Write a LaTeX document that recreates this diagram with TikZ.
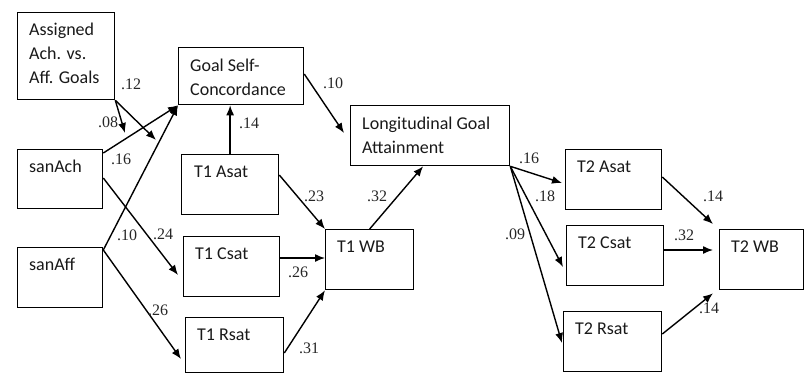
\documentclass[tikz,border=0pt]{standalone}
\usepackage{fontspec}
\setmainfont{Liberation Serif}
\newfontfamily\boxfont{Carlito}
\usetikzlibrary{arrows.meta,calc}

\begin{document}
\begin{tikzpicture}[x=1pt,y=-1pt,
  bx/.style={draw, line width=1.3pt, inner sep=0pt, anchor=north west},
  txt/.style={anchor=north west, inner sep=0pt, align=left, text=black!90,
    font=\boxfont\fontsize{18}{24}\selectfont},
  lbl/.style={inner sep=0pt, font=\fontsize{16}{18}\selectfont, text=black!85},
  path/.style={line width=1.4pt, -{Latex[length=10pt,width=8pt]}}]

\useasboundingbox (0,0) rectangle (805,376);

% variable boxes
\node[bx, minimum width=97pt, minimum height=87pt] (asg) at (17,12) {};
\node[bx, minimum width=125pt, minimum height=57pt] (gsc) at (178,47) {};
\node[bx, minimum width=85pt, minimum height=59pt] (sach) at (17,149) {};
\node[bx, minimum width=85pt, minimum height=60pt] (saff) at (17,247) {};
\node[bx, minimum width=97pt, minimum height=60pt] (t1a) at (181,154) {};
\node[bx, minimum width=96pt, minimum height=60pt] (t1c) at (183,236) {};
\node[bx, minimum width=98pt, minimum height=55pt] (t1r) at (185,317) {};
\node[bx, minimum width=88pt, minimum height=60pt] (t1w) at (325,229) {};
\node[bx, minimum width=159pt, minimum height=60pt] (lga) at (350,105) {};
\node[bx, minimum width=96pt, minimum height=60pt] (t2a) at (565,149) {};
\node[bx, minimum width=97pt, minimum height=60pt] (t2c) at (566,225) {};
\node[bx, minimum width=98pt, minimum height=60pt] (t2r) at (563,311) {};
\node[bx, minimum width=84pt, minimum height=60pt] (t2w) at (719,229) {};

% box captions
\node[txt] (asgT) at ($(asg.north west)+(12,11)$) {Assigned\\Ach. vs.\\Aff. Goals};
\node[txt] (gscT) at ($(gsc.north west)+(12,12)$) {Goal Self-\\Concordance};
\node[txt] (sachT) at ($(sach.north west)+(12,11)$) {sanAch};
\node[txt] (saffT) at ($(saff.north west)+(12,11)$) {sanAff};
\node[txt] (t1aT) at ($(t1a.north west)+(13,12)$) {T1 Asat};
\node[txt] (t1cT) at ($(t1c.north west)+(12,12)$) {T1 Csat};
\node[txt] (t1rT) at ($(t1r.north west)+(12,12)$) {T1 Rsat};
\node[txt] (t1wT) at ($(t1w.north west)+(12,12)$) {T1 WB};
\node[txt] (lgaT) at ($(lga.north west)+(12,12)$) {Longitudinal Goal\\Attainment};
\node[txt] (t2aT) at ($(t2a.north west)+(12,12)$) {T2 Asat};
\node[txt] (t2cT) at ($(t2c.north west)+(12,12)$) {T2 Csat};
\node[txt] (t2rT) at ($(t2r.north west)+(12,12)$) {T2 Rsat};
\node[txt] (t2wT) at ($(t2w.north west)+(12,12)$) {T2 WB};

% moderation targets on the paths into self-concordance
\coordinate (m1) at (125,133);
\coordinate (m2) at (156,140);

% paths
\draw[path] (asg.south east) -- (m1);
\draw[path] (asg.south east) -- (m2);
\draw[path] ($(sach.north east)+(0,4)$) -- (gsc.south west);
\draw[path] ($(saff.north east)+(0,3)$) -- (gsc.south west);
\draw[path] ($(sach.north east)+(0,29)$) -- ($(t1c.north west)+(-5,39)$);
\draw[path] ($(saff.north east)+(0,3)$) -- ($(t1r.north west)+(-4,42)$);
\draw[path] (t1a.north) -- (t1a.north |- gsc.south);
\draw[path] ($(t1a.north east)+(0,21)$) -- (t1w.north west);
\draw[path] ($(t1c.north east)+(0,22)$) -- ($(t1w.north west)+(0,29)$);
\draw[path] ($(t1r.north east)+(0,36)$) -- (t1w.south west);
\draw[path] ($(gsc.north east)+(0,27)$) -- ($(lga.north west)+(-6,28)$);
\draw[path] (t1w.north) -- ($(lga.south)+(-7,0)$);
\draw[path] (lga.south east) -- ($(t2a.north west)+(-3,34)$);
\draw[path] (lga.south east) -- ($(t2c.north west)+(-3,42)$);
\draw[path] (lga.south east) -- ($(t2r.north west)+(-1,32)$);
\draw[path] ($(t2a.north east)+(0,28)$) -- ($(t2w.north west)+(-6,-5)$);
\draw[path] ($(t2c.north east)+(0,25)$) -- ($(t2w.north west)+(-6,21)$);
\draw[path] ($(t2r.north east)+(0,23)$) -- ($(t2w.south west)+(-6,3)$);

% path coefficients
\node[lbl] (c1) at (131,84) {.12};
\node[lbl] (c2) at (108,122) {.08};
\node[lbl] (c3) at (121,159) {.16};
\node[lbl] (c4) at (249,123) {.14};
\node[lbl] (c5) at (127,235) {.10};
\node[lbl] (c6) at (163,234) {.24};
\node[lbl] (c7) at (158,310) {.26};
\node[lbl] (c8) at (314,196) {.23};
\node[lbl] (c9) at (298,272) {.26};
\node[lbl] (c10) at (309,348) {.31};
\node[lbl] (c11) at (333,83) {.10};
\node[lbl] (c12) at (377,196) {.32};
\node[lbl] (c13) at (529,158) {.16};
\node[lbl] (c14) at (545,196) {.18};
\node[lbl] (c15) at (515,234) {.09};
\node[lbl] (c16) at (713,196) {.14};
\node[lbl] (c17) at (684,235) {.32};
\node[lbl] (c18) at (709,308) {.14};
\end{tikzpicture}
\end{document}
